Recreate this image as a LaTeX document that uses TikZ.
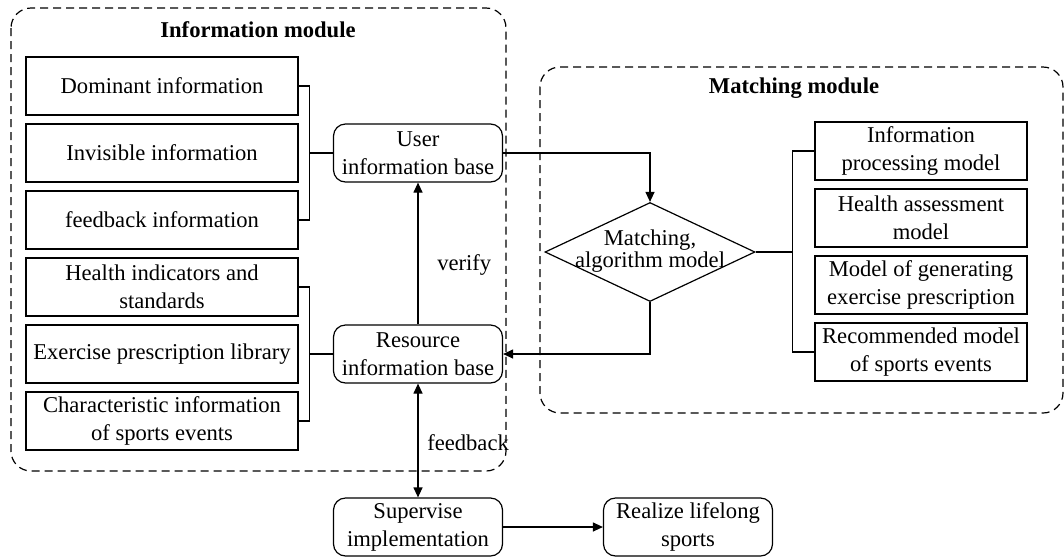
\documentclass[tikz,border=0pt]{standalone}
\usepackage{fontspec}
\setmainfont{Liberation Serif}
\usetikzlibrary{shapes.geometric,arrows.meta}
\begin{document}
\begin{tikzpicture}[x=0.5pt, y=-0.5pt, line width=0.6pt,
  every node/.style={font=\fontsize{11.3}{14}\selectfont},
  infobox/.style={draw, minimum width=136pt, minimum height=29pt, inner sep=1pt, align=center},
  modelbox/.style={draw, minimum width=106pt, minimum height=29pt, inner sep=1pt, align=center},
  basebox/.style={draw, rounded corners=6pt, minimum width=84.5pt, minimum height=29pt, inner sep=1pt, align=center},
  module/.style={draw, dash pattern=on 4pt off 2.5pt, rounded corners=10pt},
  title/.style={font=\fontsize{11.3}{14}\selectfont\bfseries},
  tip/.style={-{Triangle[length=5pt,width=4.5pt]}}]
  \useasboundingbox (0,0) rectangle (1064,558);
  % information module
  \draw[module] (11,8) rectangle (506,471);
  \node[title] (infotitle) at (258,30) {Information module};
  \foreach \y/\name/\txt in {86/dom/Dominant information, 153/inv/Invisible information,
      220/fbi/feedback information, 287/hind/{Health indicators and\\standards},
      354/epl/Exercise prescription library, 421/cis/{Characteristic information\\of sports events}}
    \node[infobox] (\name) at (162,\y) {\txt};
  \node[basebox] (user) at (418,153) {User\\information base};
  \node[basebox] (res) at (418,354) {Resource\\information base};
  \draw (dom.east) -- ++(11,0) coordinate (b1) |- (fbi.east);
  \draw (b1 |- user.west) -- (user.west);
  \draw (hind.east) -- ++(11,0) coordinate (b2) |- (cis.east);
  \draw (b2 |- res.west) -- (res.west);
  % matching module
  \draw[module] (540,67) rectangle (1063,413);
  \node[title] (matchtitle) at (794,88) {Matching module};
  \node[diamond, draw, minimum width=105pt, minimum height=49.5pt, inner sep=0pt] (match) at (650,252) {};
  \node[align=center] (matchtext) at (650,251) {Matching,\\[-3pt]algorithm model};
  \foreach \y/\name/\txt in {151/ipm/{Information\\processing model}, 218/ham/{Health assessment\\model},
      285/gep/{Model of generating\\exercise prescription}, 352/rse/{Recommended model\\of sports events}}
    \node[modelbox] (\name) at (921,\y) {\txt};
  \draw (ipm.west) -- ++(-22,0) coordinate (b3) |- (rse.west);
  \draw (match.east) -- (b3 |- match.east);
  % flow
  \draw[tip] (user.east) -| (match.north);
  \draw[tip] (match.south) |- (res.east);
  \draw[tip] (res.north) -- (user.south) node[pos=0.42, right=6pt] {verify};
  \node[basebox] (sup) at (418,527) {Supervise\\implementation};
  \node[basebox] (real) at (688,527) {Realize lifelong\\sports};
  \draw[{Triangle[length=5pt,width=4.5pt]}-{Triangle[length=5pt,width=4.5pt]}] (res.south) -- (sup.north) node[pos=0.52, right=1pt] {feedback};
  \draw[tip] (sup.east) -- (real.west);
\end{tikzpicture}
\end{document}
